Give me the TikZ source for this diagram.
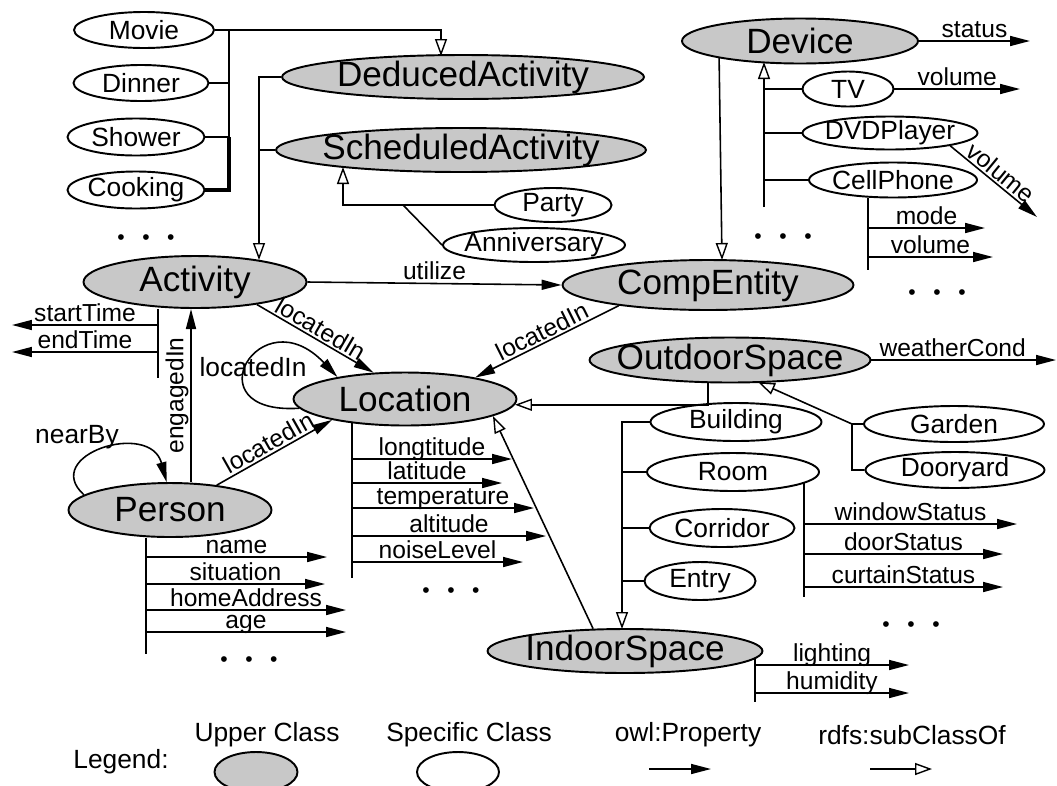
\documentclass[tikz,border=0pt]{standalone}
\usepackage{fontspec}
\setmainfont{Liberation Sans}
\usepackage{xcolor}
\usetikzlibrary{arrows.meta,shapes.geometric}
\definecolor{upgray}{RGB}{200,200,200}
\tikzstyle{upper}=[draw=black, fill=upgray, shape=ellipse, line width=1.1pt, inner xsep=-0.3cm, inner ysep=-3pt, font=\fontsize{20}{22}\selectfont]
\tikzstyle{specific}=[draw=black, fill=white, shape=ellipse, line width=1.1pt, inner xsep=-0.3cm, inner ysep=-2pt, font=\fontsize{15}{17}\selectfont]
\tikzstyle{edge}=[line width=0.9pt]
\tikzstyle{prop}=[edge, -{Triangle[length=0.4cm,width=0.2cm]}]
\tikzstyle{sub}=[edge, -{Triangle[open,length=0.34cm,width=0.24cm,line width=0.8pt]}]
\tikzstyle{plabel}=[font=\fontsize{14}{16}\selectfont, anchor=base, inner sep=0pt, yshift=2pt]
\tikzstyle{slabel}=[font=\fontsize{14}{16}\selectfont, sloped, above, inner sep=1pt]
\tikzstyle{tlabel}=[font=\fontsize{15}{17}\selectfont]
\tikzstyle{dots}=[font=\fontsize{12}{12}\selectfont]
\newcommand{\dotrow}{•\hspace{10pt}•\hspace{10pt}•}

\begin{document}
\begin{tikzpicture}[x=0.02cm, y=-0.02cm]
\useasboundingbox (0,0) rectangle (1057,785);

\node[specific, minimum width=2.8cm, minimum height=0.72cm] (Movie) at (144,30) {Movie};
\node[specific, minimum width=2.7cm, minimum height=0.72cm] (Dinner) at (141,83) {Dinner};
\node[specific, minimum width=2.74cm, minimum height=0.74cm] (Shower) at (136,137) {Shower};
\node[specific, minimum width=2.74cm, minimum height=0.74cm] (Cooking) at (136,190) {Cooking};
\node[upper, minimum width=7.24cm, minimum height=0.88cm] (DeducedActivity) at (463,77) {DeducedActivity};
\node[upper, minimum width=7.4cm, minimum height=0.88cm] (ScheduledActivity) at (461,150) {ScheduledActivity};
\node[specific, minimum width=2.34cm, minimum height=0.68cm] (Party) at (553,205) {Party};
\node[specific, minimum width=3.64cm, minimum height=0.68cm] (Anniversary) at (534,245) {Anniversary};
\node[upper, minimum width=4.46cm, minimum height=1.04cm] (Activity) at (195,282) {Activity};
\node[upper, minimum width=5.82cm, minimum height=1.0cm] (CompEntity) at (708,285) {CompEntity};
\node[upper, minimum width=4.72cm, minimum height=0.9cm] (Device) at (800,41) {Device};
\node[specific, minimum width=1.82cm, minimum height=0.7cm] (TV) at (848,89) {TV};
\node[specific, minimum width=3.5cm, minimum height=0.66cm] (DVDPlayer) at (890,133) {DVDPlayer};
\node[specific, minimum width=3.36cm, minimum height=0.7cm] (CellPhone) at (893,180) {CellPhone};
\node[upper, minimum width=4.46cm, minimum height=1.06cm] (Location) at (405,399) {Location};
\node[upper, minimum width=5.62cm, minimum height=0.9cm] (OutdoorSpace) at (730,360) {OutdoorSpace};
\node[upper, minimum width=4.06cm, minimum height=1.08cm] (Person) at (170,510) {Person};
\node[specific, minimum width=3.42cm, minimum height=0.76cm] (Building) at (736,422) {Building};
\node[specific, minimum width=3.44cm, minimum height=0.76cm] (Room) at (733,472) {Room};
\node[specific, minimum width=2.9cm, minimum height=0.76cm] (Corridor) at (722,528) {Corridor};
\node[specific, minimum width=2.22cm, minimum height=0.76cm] (Entry) at (700,581) {Entry};
\node[specific, minimum width=3.6cm, minimum height=0.72cm] (Garden) at (954,424) {Garden};
\node[specific, minimum width=3.58cm, minimum height=0.72cm] (Dooryard) at (955,470) {Dooryard};
\node[upper, minimum width=5.5cm, minimum height=0.88cm] (IndoorSpace) at (625,651) {IndoorSpace};

\node[dots] (dotsAct) at (146,240) {\dotrow};
\node[dots] (dotsDev) at (783,239) {\dotrow};
\node[dots] (dotsCell) at (937,295) {\dotrow};
\node[dots] (dotsPer) at (249,662) {\dotrow};
\node[dots] (dotsLoc) at (451,593) {\dotrow};
\node[dots] (dotsRoom) at (911,627) {\dotrow};

\coordinate (dain) at (441,56);
\coordinate (mtr) at (229,30);
\draw[sub] (Movie.east) -| (dain);
\draw[edge] (mtr) -- (mtr |- Shower.east);
\draw[edge] (Dinner.east) -- (Dinner.east -| mtr);
\draw[edge] (Shower.east) -- (Shower.east -| mtr);
\draw[edge, line width=1.8pt] (Cooking.east) -| (Shower.east -| mtr);

\coordinate (actin) at (259,260);
\draw[sub] (DeducedActivity.west) -| (actin);
\draw[edge] (ScheduledActivity.west) -- (ScheduledActivity.west -| actin);

\coordinate (schin) at (343,167);
\coordinate (schj) at (403,205);
\draw[sub] (Party.west) -| (schin);
\draw[edge] (Anniversary.west) -- (schj);

\draw[prop] (Activity.east) -- node[plabel]{utilize} (CompEntity.west);

\coordinate (dcin) at (722,260);
\draw[sub] (Device.192) -- (dcin);
\coordinate (dvtop) at (764,62);
\coordinate (dvbot) at (764,207);
\draw[sub] (dvbot) -- (dvtop);
\foreach \c in {TV, DVDPlayer, CellPhone}
  \draw[edge] (\c.west) -- (\c.west -| dvbot);

\coordinate (stat) at (1030,41);
\draw[prop] (Device.east) -- node[plabel]{status} (stat);
\coordinate (tvv) at (1020,89);
\draw[prop] (TV.east) -- node[plabel]{volume} (tvv);
\coordinate (dvdv) at (1037,217);
\draw[prop] (DVDPlayer.-12) -- node[slabel]{volume} (dvdv);
\coordinate (cpbot) at (868,270);
\draw[edge] (CellPhone.south -| cpbot) -- (cpbot);
\foreach \n/\y/\e/\t in {cp1/228/985/mode, cp2/257/993/volume} {
  \coordinate (\n-s) at (868,\y);
  \coordinate (\n-e) at (\e,\y);
  \draw[prop] (\n-s) -- node[plabel]{\t} (\n-e);
}

\draw[prop] (Activity.-20) -- node[slabel]{locatedIn} (Location.140);
\draw[prop] (CompEntity.193) -- node[slabel]{locatedIn} (Location.17);
\draw[prop] (Person.28) -- node[slabel]{locatedIn} (Location.196);
\draw[prop] (Location.185) .. controls (190,415) and (260,295) .. (Location.162);
\node[tlabel] (loopLoc) at (253,367) {locatedIn};

\coordinate (engx) at (191,309);
\draw[prop] (Person.north -| engx) -- node[slabel]{engagedIn} (engx);
\draw[prop] (Person.170) .. controls (40,455) and (150,420) .. (Person.97);
\node[tlabel] (nearBy) at (77,437) {nearBy};

\coordinate (atbot) at (158,378);
\draw[edge] (Activity.south -| atbot) -- (atbot);
\foreach \n/\y/\t in {at1/325/startTime, at2/352/endTime} {
  \coordinate (\n-s) at (158,\y);
  \coordinate (\n-e) at (12,\y);
  \draw[prop] (\n-s) -- node[plabel]{\t} (\n-e);
}

\coordinate (ptrunk) at (146,654);
\draw[edge] (Person.south -| ptrunk) -- (ptrunk);
\foreach \n/\y/\e/\t in {p1/557/327/name, p2/584/325/situation, p3/610/346/homeAddress, p4/632/346/age} {
  \coordinate (\n-s) at (146,\y);
  \coordinate (\n-e) at (\e,\y);
  \draw[prop] (\n-s) -- node[plabel]{\t} (\n-e);
}

\coordinate (lbot) at (352,578);
\draw[edge] (Location.203.5 -| lbot) -- (lbot);
\foreach \n/\y/\e/\t in {l1/459/512/longtitude, l2/483/502/latitude, l3/508/534/temperature, l4/536/546/altitude, l5/562/523/noiseLevel} {
  \coordinate (\n-s) at (352,\y);
  \coordinate (\n-e) at (\e,\y);
  \draw[prop] (\n-s) -- node[plabel]{\t} (\n-e);
}

\coordinate (wc) at (1056,360);
\draw[prop] (OutdoorSpace.east) -- node[plabel, pos=0.44]{weatherCond} (wc);
\coordinate (ot) at (708,382);
\draw[sub] (ot) |- (Location.-3);
\draw[sub] (IndoorSpace.145) -- (Location.-11);

\coordinate (gj) at (852,424);
\coordinate (oin) at (758,382);
\draw[sub] (Dooryard.west) -| (gj) -- (oin);
\draw[edge] (Garden.west) -- (gj);

\coordinate (inin) at (622,629);
\draw[sub] (Building.west) -| (inin);
\foreach \c in {Room, Corridor, Entry}
  \draw[edge] (\c.west) -- (\c.west -| inin);

\coordinate (rbot) at (804,597);
\draw[edge] (Room.-8 -| rbot) -- (rbot);
\foreach \n/\y/\e/\t in {r1/524/1017/windowStatus, r2/554/1003/doorStatus, r3/587/1003/curtainStatus} {
  \coordinate (\n-s) at (804,\y);
  \coordinate (\n-e) at (\e,\y);
  \draw[prop] (\n-s) -- node[plabel]{\t} (\n-e);
}

\coordinate (ibot) at (755,702);
\draw[edge] (IndoorSpace.-3.3 -| ibot) -- (ibot);
\foreach \n/\y/\t in {i1/665/lighting, i2/693/humidity} {
  \coordinate (\n-s) at (755,\y);
  \coordinate (\n-e) at (909,\y);
  \draw[prop] (\n-s) -- node[plabel]{\t} (\n-e);
}

\node[tlabel] (legend) at (121,762) {Legend:};
\node[tlabel] (upperTxt) at (267,735) {Upper Class};
\node[upper, minimum width=1.66cm, minimum height=0.8cm] (upperKey) at (256,772) {};
\node[tlabel] (specTxt) at (469,735) {Specific Class};
\node[specific, minimum width=1.64cm, minimum height=0.8cm] (specKey) at (458,772) {};
\node[tlabel] (propTxt) at (688,735) {owl:Property};
\coordinate (propA) at (649,769);
\coordinate (propB) at (711,769);
\draw[prop] (propA) -- (propB);
\node[tlabel] (subTxt) at (912,735) {rdfs:subClassOf};
\coordinate (subA) at (870,769);
\coordinate (subB) at (932,769);
\draw[sub] (subA) -- (subB);
\end{tikzpicture}
\end{document}
